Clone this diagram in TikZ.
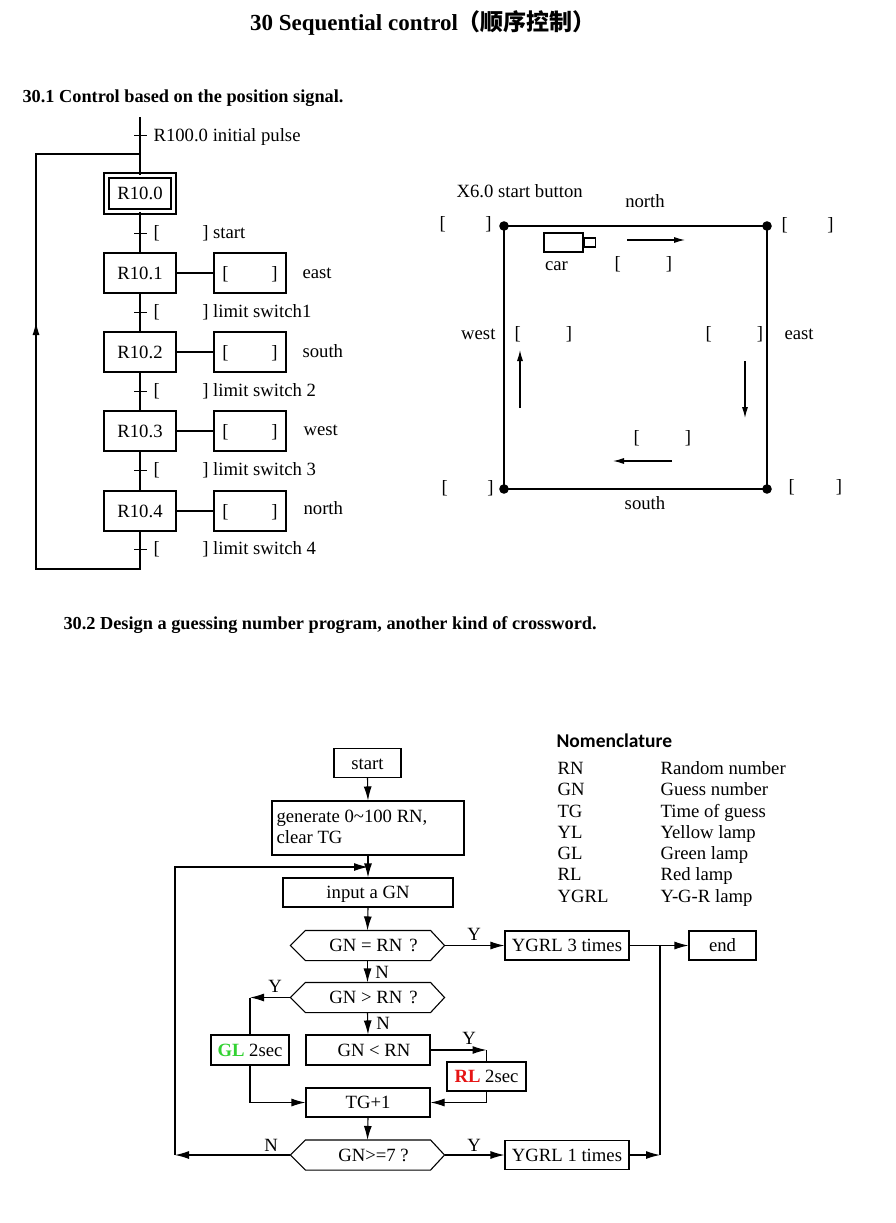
\documentclass[tikz,border=0pt]{standalone}
\usepackage{fontspec}
\setmainfont{Liberation Serif}
\newfontfamily\cjkfont{Noto Sans CJK SC}
\newfontfamily\nomfont{Carlito}
\usetikzlibrary{arrows.meta,calc}
\definecolor{glgreen}{RGB}{50,210,50}
\definecolor{rlred}{RGB}{230,20,20}
\newcommand\drawhexagon[1]{\draw (#1.west) -- ([xshift=15pt]#1.north west) -- ([xshift=-14pt]#1.north east) -- (#1.east) -- ([xshift=-14pt]#1.south east) -- ([xshift=15pt]#1.south west) -- cycle;}
\begin{document}
\begin{tikzpicture}[x=1pt,y=-1pt, line width=1.1pt,
 every node/.style={inner sep=0pt, font=\fontsize{18.7}{22}\selectfont},
 txt/.style={text height=12.4pt, text depth=0pt},
 box/.style={draw, txt, minimum height=40pt, minimum width=72pt},
 fbox/.style={draw, txt, minimum height=29pt},
 hexn/.style={txt, minimum height=29pt, minimum width=153pt},
 arr/.style={-{Latex[length=14pt,width=8pt]}},
 sarr/.style={-{Latex[length=11pt,width=6pt]}},
 tick/.style={line width=1pt},
]
\useasboundingbox (0,0) rectangle (895,1223);
\fill[white] (0,0) rectangle (895,1223);

% ---------- titles ----------
\node[font=\fontsize{23}{26}\selectfont\bfseries, txt] (title) at (423,24) {30 Sequential control{\cjkfont （顺序控制）}};
\node[anchor=west, font=\fontsize{18.3}{22}\selectfont\bfseries, txt] (s1) at (22,96) {30.1 Control based on the position signal.};
\node[anchor=west, font=\fontsize{18.3}{22}\selectfont\bfseries, txt] (s2) at (63,623) {30.2 Design a guessing number program, another kind of crossword.};

% ---------- SFC ----------
\coordinate (top) at (140,117);
\coordinate (j0) at (140,154);
\coordinate (t0) at (140,135);
\coordinate (t1) at (140,233);
\coordinate (t2) at (140,312);
\coordinate (t3) at (140,391);
\coordinate (t4) at (140,470);
\coordinate (t5) at (140,549);
\coordinate (bot) at (140,569);
\coordinate (lb) at (36,569);
\coordinate (lt) at (36,154);
\coordinate (la1) at (36,352);
\coordinate (la2) at (36,322);

\node[draw, double, double distance=3.9pt, minimum width=67pt, minimum height=36pt, txt] (r0) at (140,193.5) {R10.0};
\node[box] (r1) at (140,273) {R10.1};
\node[box] (r2) at (140,352) {R10.2};
\node[box] (r3) at (140,431) {R10.3};
\node[box] (r4) at (140,511) {R10.4};

\node[box] (a1) at (250,273) {[\hspace{43pt}]};
\node[box] (a2) at (250,352) {[\hspace{43pt}]};
\node[box] (a3) at (250,431) {[\hspace{43pt}]};
\node[box] (a4) at (250,511) {[\hspace{43pt}]};

\node[txt, anchor=west] (e1) at (302,272) {east};
\node[txt, anchor=west] (e2) at (302,351) {south};
\node[txt, anchor=west] (e3) at (303,429) {west};
\node[txt, anchor=west] (e4) at (303,508) {north};

\node[txt, anchor=west] (ip) at (153,135) {R100.0 initial pulse};
\node[txt, anchor=west] (l1) at (153,232) {[\hspace{42.5pt}] start};
\node[txt, anchor=west] (l2) at (153,311) {[\hspace{42.5pt}] limit switch1};
\node[txt, anchor=west] (l3) at (153,390) {[\hspace{42.5pt}] limit switch 2};
\node[txt, anchor=west] (l4) at (153,469) {[\hspace{42.5pt}] limit switch 3};
\node[txt, anchor=west] (l5) at (153,548) {[\hspace{42.5pt}] limit switch 4};

\draw (top) -- (r0.north);
\draw (r0.south) -- (r1.north);
\draw (r1.south) -- (r2.north);
\draw (r2.south) -- (r3.north);
\draw (r3.south) -- (r4.north);
\draw (r4.south) -- (bot) -- (lb) -- (lt) -- (j0);
\draw[-{Latex[length=13pt,width=7pt]}] (la1) -- (la2);
\foreach \t in {t0,t1,t2,t3,t4,t5}{\draw[tick] ($(\t)+(-6,0)$) -- ($(\t)+(7,0)$);}
\draw (r1.east) -- (a1.west);
\draw (r2.east) -- (a2.west);
\draw (r3.east) -- (a3.west);
\draw (r4.east) -- (a4.west);

% ---------- car track ----------
\coordinate (nw) at (504,226);
\coordinate (ne) at (767,226);
\coordinate (sw) at (504,489);
\coordinate (se) at (767,489);
\draw (nw) -- (ne) -- (se) -- (sw) -- cycle;
\foreach \c in {nw,ne,se,sw}{\fill (\c) circle (4.8pt);}

\node[txt] (north) at (645,201) {north};
\node[txt] (south) at (645,503) {south};
\node[txt, anchor=east] (west) at (496,333) {west};
\node[txt, anchor=west] (east) at (784,333) {east};
\node[txt, anchor=west] (x6) at (456,191) {X6.0 start button};

\node[txt, anchor=west] (bnw) at (439,223.5) {[\hspace{39.5pt}]};
\node[txt, anchor=west] (bne) at (781,224.5) {[\hspace{39.5pt}]};
\node[txt, anchor=west] (bsw) at (441,487.5) {[\hspace{39.5pt}]};
\node[txt, anchor=west] (bse) at (788,486.5) {[\hspace{41pt}]};
\node[txt, anchor=west] (bwi) at (514,333) {[\hspace{45pt}]};
\node[txt, anchor=west] (bei) at (705,333) {[\hspace{45pt}]};
\node[txt, anchor=west] (bcar) at (614,263.5) {[\hspace{45pt}]};
\node[txt, anchor=west] (bsi) at (633,437) {[\hspace{45pt}]};

\node[draw, minimum width=39pt, minimum height=19pt] (car) at (563.5,242.5) {};
\node[draw, minimum width=11pt, minimum height=9pt, anchor=west] (nose) at (car.east) {};
\node[txt] (carl) at (556.5,264) {car};

\coordinate (an1) at (627,240);
\coordinate (an2) at (685,240);
\coordinate (aw1) at (520,408);
\coordinate (aw2) at (520,350);
\coordinate (ae1) at (745,361);
\coordinate (ae2) at (745,418);
\coordinate (as1) at (672,461);
\coordinate (as2) at (613,461);
\draw[sarr] (an1) -- (an2);
\draw[sarr] (aw1) -- (aw2);
\draw[sarr] (ae1) -- (ae2);
\draw[sarr] (as1) -- (as2);

% ---------- flowchart ----------
\node[fbox, minimum width=67pt] (start) at (367.5,763) {start};
\node[draw, minimum width=192pt, minimum height=54pt] (gen) at (368,828) {};
\node[anchor=west, align=left, font=\fontsize{18.7}{21}\selectfont] (gent) at (276,827) {generate 0\textasciitilde100 RN,\\clear TG};
\node[fbox, minimum width=170pt] (inp) at (368,892.5) {input a GN};
\node[hexn] (h1) at (367.5,945.5) {\hspace{12pt}GN = RN\hspace{7pt}?};
\node[hexn] (h2) at (367.5,997.5) {\hspace{12pt}GN > RN\hspace{7pt}?};
\node[fbox, minimum width=78pt, minimum height=30pt] (gl) at (250,1050) {\textcolor{glgreen}{\textbf{GL}} 2sec};
\node[fbox, minimum width=124pt, minimum height=30pt] (lt2) at (368,1050) {\hspace{12pt}GN < RN};
\node[fbox, minimum width=79pt] (rl) at (486.5,1076.5) {\textcolor{rlred}{\textbf{RL}} 2sec};
\node[fbox, minimum width=124pt] (tg) at (368,1102.5) {TG+1};
\node[hexn] (h3) at (367.5,1155) {\hspace{12pt}GN>=7 ?};
\node[fbox, minimum width=124pt] (y3) at (567,945.5) {YGRL 3 times};
\node[fbox, minimum width=67pt] (end) at (722.5,945.5) {end};
\node[fbox, minimum width=124pt] (y1) at (567,1155) {YGRL 1 times};
\drawhexagon{h1}
\drawhexagon{h2}
\drawhexagon{h3}

\coordinate (jin) at (368,867);
\coordinate (lpb) at (175,1155);
\coordinate (lpt) at (175,867);
\coordinate (jr) at (660,945.5);
\coordinate (jrb) at (660,1155);
\coordinate (gly) at (250,997.5);
\coordinate (rly) at (486.5,1050);
\coordinate (glb) at (250,1102.5);
\coordinate (rlb) at (486.5,1102.5);

\draw[arr] (start.south) -- (gen.north);
\draw[arr] (gen.south) -- (inp.north);
\draw[arr] (h3.west) -- (lpb);
\draw[arr] (lpb) -- (lpt) -- (jin);
\draw[arr] (inp.south) -- (h1.north);
\draw[arr] (h1.east) -- (y3.west);
\draw[arr] (y3.east) -- (end.west);
\draw[arr] (y1.east) -- (jrb);
\draw (jrb) -- (jr);
\draw[arr] (h1.south) -- (h2.north);
\draw[arr] (h2.west) -- (gly);
\draw (gly) -- (gl.north);
\draw[arr] (h2.south) -- (lt2.north);
\draw[arr] (lt2.east) -- (rly);
\draw (rly) -- (rl.north);
\draw (gl.south) -- (glb);
\draw[arr] (glb) -- (tg.west);
\draw (rl.south) -- (rlb);
\draw[arr] (rlb) -- (tg.east);
\draw[arr] (tg.south) -- (h3.north);
\draw[arr] (h3.east) -- (y1.west);

\node[txt] (ly1) at (474,934) {Y};
\node[txt] (ln1) at (382,972) {N};
\node[txt] (ly2) at (275,986) {Y};
\node[txt] (ln2) at (383,1023) {N};
\node[txt] (ly3) at (469,1038) {Y};
\node[txt] (ly4) at (474,1145) {Y};
\node[txt] (ln3) at (271,1145) {N};

% ---------- nomenclature ----------
\node[anchor=west, font={\nomfont\bfseries\fontsize{19.5}{22}\selectfont}, txt] (nom) at (556,741) {Nomenclature};
\foreach \a/\b [count=\i from 0] in {RN/Random number, GN/Guess number, TG/Time of guess, YL/Yellow lamp, GL/Green lamp, RL/Red lamp, YGRL/Y-G-R lamp}{
  \node[txt, anchor=west] (na\i) at (557,768.5+21.25*\i) {\a};
  \node[txt, anchor=west] (nb\i) at (660,768.5+21.25*\i) {\b};
}
\end{tikzpicture}
\end{document}
